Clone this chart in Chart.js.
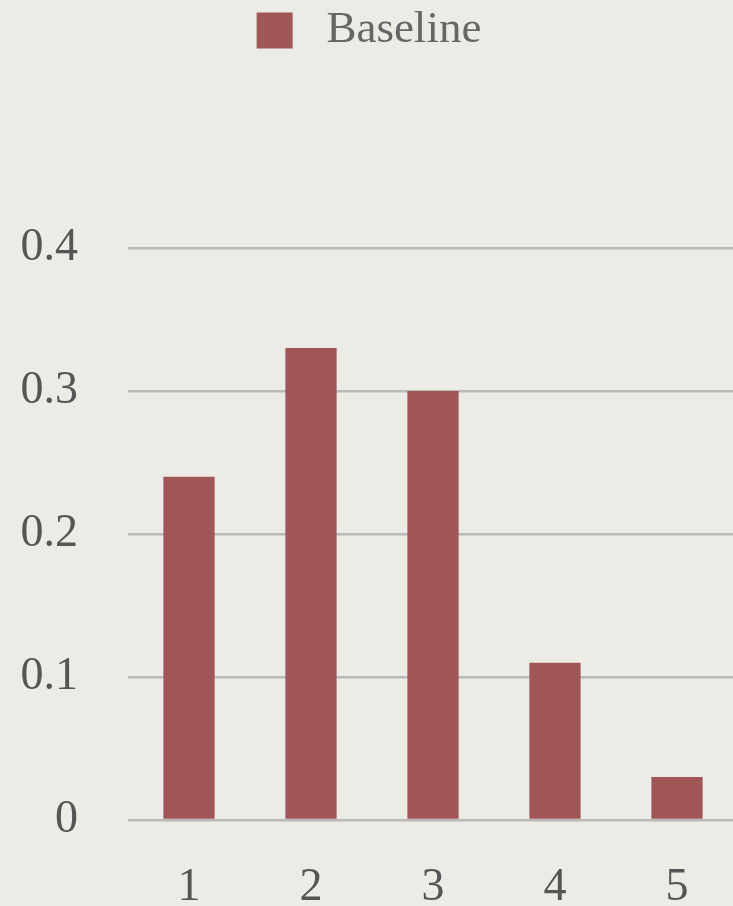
<!DOCTYPE html>
<html>
<head>
<meta charset="utf-8">
<script src="https://cdn.jsdelivr.net/npm/chart.js@4/dist/chart.umd.min.js"></script>
<style>
  html, body { margin: 0; padding: 0; overflow: hidden; background: #ecebe6; }
  canvas { display: block; }
</style>
</head>
<body>
<canvas id="BarChart" width="738" height="906"></canvas>
<script>
// values
let barLabels = ['1', '2', '3', '4', '5'];
let baselineVals = [0.24, 0.33, 0.30, 0.11, 0.03];
let seriesName = 'Baseline';
let yTicks = [0, 0.1, 0.2, 0.3, 0.4];

let textFont = { family: "'Liberation Serif', 'DejaVu Serif', serif", size: 46 };

// push the plot down a bit under the legend
let legendGap = {
    id: 'legendGap',
    beforeInit(chart) {
        let origFit = chart.legend.fit;
        chart.legend.fit = function () {
            origFit.call(this);
            this.height += 185;
        };
    }
};

let ctx = document.getElementById('BarChart').getContext('2d');
let myChart = new Chart(ctx, {
    type: 'bar',
    data: {
        labels: barLabels,
        datasets: [{
            label: seriesName,
            backgroundColor: '#a05656',
            data: baselineVals,
            barPercentage: 0.42,
            categoryPercentage: 1.0
        }]
    },
    options: {
        responsive: false,
        animation: false,
        layout: { padding: 0 },
        plugins: {
            tooltip: { enabled: false },
            legend: {
                position: 'top',
                labels: {
                    boxWidth: 36,
                    boxHeight: 36,
                    padding: 8,
                    color: '#666',
                    font: { family: textFont.family, size: 45 },
                    generateLabels(chart) {
                        let items = Chart.defaults.plugins.legend.labels.generateLabels(chart);
                        items.forEach(it => { it.text = ' ' + it.text; it.lineWidth = 0; });
                        return items;
                    }
                }
            }
        },
        scales: {
            y: {
                min: yTicks[0],
                max: yTicks[yTicks.length - 1],
                afterBuildTicks(axis) { axis.ticks = yTicks.map(v => ({ value: v })); },
                afterFit(axis) { axis.width = 128; },
                border: { display: false },
                grid: { color: '#b9b9b7', lineWidth: 2.5, drawTicks: false },
                ticks: { color: '#555', font: textFont, padding: 50 }
            },
            x: {
                afterFit(axis) { axis.height = 86; },
                border: { display: false },
                grid: { display: false, drawTicks: false },
                ticks: { color: '#555', font: textFont, padding: 40 }
            }
        }
    },
    plugins: [legendGap]
});
</script>
</body>
</html>
